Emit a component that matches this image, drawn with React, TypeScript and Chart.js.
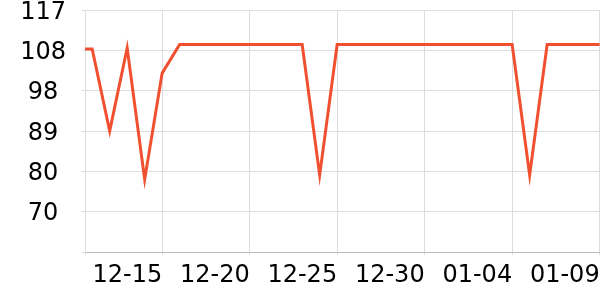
import React, { useEffect, useRef } from "react";
import { Chart, registerables } from "chart.js";

Chart.register(...registerables);

// Daily dates (index 0 = 12-10)
const dateLabels = [
  "12-10", "12-11", "12-12", "12-13", "12-14", "12-15", "12-16", "12-17", "12-18", "12-19",
  "12-20", "12-21", "12-22", "12-23", "12-24", "12-25", "12-26", "12-27", "12-28", "12-29",
  "12-30", "12-31", "01-01", "01-02", "01-03", "01-04", "01-05", "01-06", "01-07", "01-08",
  "01-09",
];
const seriesValues = [
  108, 108, 89, 108.2, 77.8, 102.4, 109, 109, 109, 109,
  109, 109, 109, 109, 78.8, 109, 109, 109, 109, 109,
  109, 109, 109, 109, 109, 109, 78.8, 109, 109, 109,
  109,
];
const xTickDays = [5, 10, 15, 20, 25, 30];
const yTickValues = [61, 70.33, 79.67, 89, 98.33, 107.67, 117];
const yTickLabels = ["", "70", "80", "89", "98", "108", "117"];

const X_MIN = 0.59;
const X_MAX = 30.02;
const LINE_COLOR = "rgb(240, 80, 48)";
const FONT = { family: "'DejaVu Sans'", size: 24 };

const zeroPad = (s: any) => {
  s.paddingTop = 0;
  s.paddingBottom = 0;
  s.paddingLeft = 0;
  s.paddingRight = 0;
};

export default function App() {
  const ref = useRef<HTMLCanvasElement>(null);
  useEffect(() => {
    document.body.style.margin = "0";
    const ctx = ref.current!;
    const points = seriesValues.map((v, i) => ({ x: i, y: v }));
    const chart = new Chart(ctx, {
      type: "line",
      data: {
        datasets: [
          {
            data: points,
            borderColor: LINE_COLOR,
            borderWidth: 3,
            pointRadius: 0,
            tension: 0,
            fill: false,
          },
        ],
      },
      options: {
        responsive: false,
        animation: false,
        plugins: { legend: { display: false }, tooltip: { enabled: false } },
        layout: { padding: { top: 10, right: 0, bottom: 0, left: 0 } },
        scales: {
          x: {
            type: "linear",
            min: X_MIN,
            max: X_MAX,
            afterBuildTicks: (axis: any) => {
              axis.ticks = [X_MIN, ...xTickDays].map((v) => ({ value: v }));
            },
            afterFit: (s: any) => {
              s.height = 48;
              zeroPad(s);
            },
            ticks: {
              autoSkip: false,
              maxRotation: 0,
              align: "end",
              padding: 6,
              color: "#000",
              font: FONT,
              callback: (v: any) => (Number.isInteger(v) ? dateLabels[v] : ""),
            },
            grid: { color: "#dddddd", tickLength: 3 },
            border: { color: "#bbbbbb" },
          },
          y: {
            type: "linear",
            min: yTickValues[0],
            max: yTickValues[yTickValues.length - 1],
            afterBuildTicks: (axis: any) => {
              axis.ticks = yTickValues.map((v) => ({ value: v }));
            },
            afterFit: (s: any) => {
              s.width = 85;
              zeroPad(s);
            },
            ticks: {
              crossAlign: "center",
              padding: 16,
              color: "#000",
              // two-line label with an empty first line nudges the text ~2.4px down
              font: { ...FONT, lineHeight: 0.2 },
              callback: (_v: any, i: number) => (yTickLabels[i] ? ["", yTickLabels[i]] : ""),
            },
            grid: { color: "#dddddd", tickLength: 3 },
            border: { color: "#dddddd" },
          },
        },
      },
    });
    return () => chart.destroy();
  }, []);
  return <canvas ref={ref} width={600} height={300} style={{ display: "block" }} />;
}
